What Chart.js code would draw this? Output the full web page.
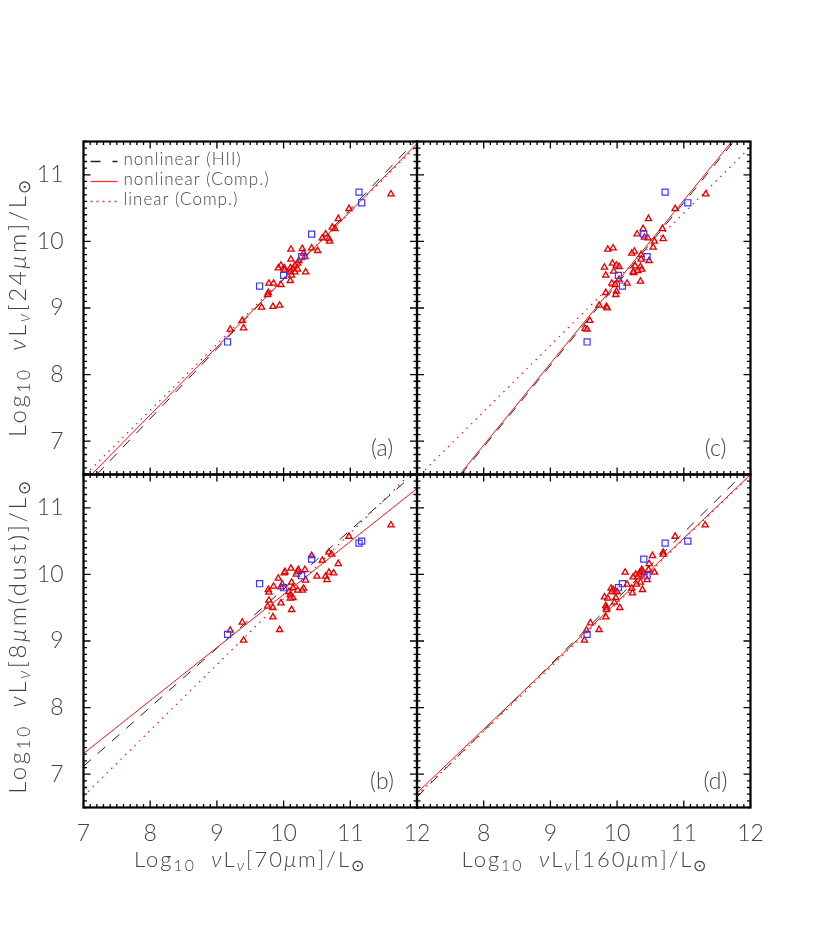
<!DOCTYPE html>
<html lang="en">
<head>
  <meta charset="UTF-8">
  <title>Luminosity correlations</title>
  <script src="https://cdn.jsdelivr.net/npm/chart.js"></script>
  <style>
    body { margin: 0; background: #fff; }
    #wrap { position: relative; width: 830px; height: 950px; }
    #wrap canvas { position: absolute; left: 0; top: 0; }
    .ttl { position: absolute; font-family: Lato, 'Liberation Sans', sans-serif; font-weight: 300; color: #444; white-space: nowrap; line-height: 1; }
    .ttl sub { font-size: 0.72em; vertical-align: -0.25em; line-height: 0; }
    .ttl i { font-style: italic; }
    .ttl .gap { display: inline-block; width: 0.7em; }
    .xt { font-size: 22px; letter-spacing: 2px; transform: translate(-50%, -50%); }
    .yt { font-size: 24px; letter-spacing: 2.6px; transform: translate(-50%, -50%) rotate(-90deg); }
  </style>
</head>
<body>
<div id="wrap">
  <canvas id="pa" width="830" height="950"></canvas>
  <canvas id="pb" width="830" height="950"></canvas>
  <canvas id="pc" width="830" height="950"></canvas>
  <canvas id="pd" width="830" height="950"></canvas>

  <div class="ttl yt" style="left:17px; top:307px">Log<sub>10</sub><span class="gap"></span><i>ν</i>L<sub><i>ν</i></sub>[24<i>μ</i>m]/L<sub>⊙</sub></div>
  <div class="ttl yt" style="left:17px; top:636px">Log<sub>10</sub><span class="gap"></span><i>ν</i>L<sub><i>ν</i></sub>[8<i>μ</i>m(dust)]/L<sub>⊙</sub></div>
  <div class="ttl xt" style="left:250px; top:859px">Log<sub>10</sub><span class="gap"></span><i>ν</i>L<sub><i>ν</i></sub>[70<i>μ</i>m]/L<sub>⊙</sub></div>
  <div class="ttl xt" style="left:585px; top:859px">Log<sub>10</sub><span class="gap"></span><i>ν</i>L<sub><i>ν</i></sub>[160<i>μ</i>m]/L<sub>⊙</sub></div>
</div>

<script>
// tick labels
const xTicks70 = [7, 8, 9, 10, 11, 12];
const xTicks160 = [8, 9, 10, 11, 12];
const yTicks = [7, 8, 9, 10, 11];

// blue squares (same 7 galaxies in every panel)
const sqL70 = [11.13, 11.17, 10.42, 10.27, 10.00, 9.64, 9.16];
const sqL160 = [10.72, 11.06, 10.40, 10.45, 10.02, 10.08, 9.55];
const sqL24 = [10.74, 10.58, 10.11, 9.77, 9.49, 9.33, 8.49];
const sqL8 = [10.47, 10.50, 10.23, 9.98, 9.80, 9.86, 9.10];

// red triangles, panel (a): 70um vs 24um
const aX = [11.61,10.98,10.82,10.77,10.73,10.63,10.68,10.69,10.58,10.42,10.51,10.28,10.11,10.30,10.32,10.11,10.23,10.21,10.17,9.96,9.92,10.01,10.01,10.10,10.14,10.21,10.17,10.10,10.33,10.12,10.10,9.96,9.78,9.85,9.77,9.76,9.67,9.84,9.94,9.38,9.40,9.20];
const aY = [10.71,10.49,10.34,10.19,10.21,10.11,10.04,10.00,10.05,9.90,9.86,9.89,9.88,9.82,9.77,9.73,9.71,9.67,9.64,9.64,9.60,9.60,9.57,9.60,9.58,9.58,9.54,9.54,9.54,9.49,9.41,9.35,9.37,9.37,9.23,9.20,9.01,9.02,9.04,8.81,8.70,8.68];
// panel (b): 70um vs 8um
const bX = [11.61,10.98,10.68,10.72,10.42,10.58,10.82,10.11,10.22,10.21,10.01,10.02,10.32,10.19,10.50,10.68,10.75,10.63,10.65,9.92,10.33,10.12,9.85,9.98,9.77,9.78,9.96,10.14,10.21,10.30,10.28,10.08,10.10,10.14,10.10,9.78,9.96,9.84,10.12,9.76,9.84,9.38,9.20,9.94,9.40];
const bY = [10.74,10.57,10.33,10.30,10.28,10.21,10.16,10.09,10.07,10.04,10.02,10.04,10.07,10.00,9.97,10.03,10.02,9.97,9.92,9.94,9.91,9.88,9.82,9.85,9.77,9.73,9.81,9.80,9.76,9.79,9.76,9.74,9.69,9.65,9.64,9.61,9.57,9.50,9.47,9.52,9.36,9.28,9.16,9.17,9.01];
// panel (c): 160um vs 24um
const cX = [11.33,10.87,10.47,10.39,10.30,10.68,10.69,10.56,10.41,10.46,10.54,9.86,9.94,10.26,10.22,10.36,10.36,10.48,9.93,9.99,10.03,9.81,10.27,10.35,10.37,10.31,10.25,10.24,9.95,9.83,10.03,10.35,10.15,9.92,9.97,9.99,9.98,9.83,9.73,9.84,9.85,9.59,9.52,9.55];
const cY = [10.71,10.49,10.34,10.19,10.11,10.19,10.04,10.00,10.06,10.05,9.91,9.88,9.90,9.85,9.82,9.80,9.73,9.71,9.67,9.64,9.62,9.61,9.63,9.62,9.58,9.56,9.53,9.54,9.55,9.49,9.43,9.40,9.37,9.37,9.35,9.25,9.20,9.23,9.04,9.02,9.00,8.81,8.69,8.68];
// panel (d): 160um vs 8um
const dX = [11.32,10.87,10.69,10.69,10.53,10.48,10.47,10.56,10.12,10.37,10.38,10.39,10.34,10.28,10.33,10.24,10.31,10.45,10.35,10.29,10.15,10.22,10.38,10.23,9.91,9.94,9.97,9.92,10.00,9.81,9.86,9.98,9.96,9.83,9.84,9.84,10.04,9.83,9.60,9.73,9.54,9.51];
const dY = [10.74,10.57,10.33,10.30,10.28,10.16,10.07,10.03,10.03,10.07,10.05,10.02,10.03,10.00,9.99,9.96,9.96,9.92,9.88,9.85,9.85,9.79,9.77,9.72,9.79,9.77,9.74,9.74,9.74,9.66,9.64,9.65,9.58,9.53,9.50,9.47,9.50,9.36,9.27,9.17,9.16,9.01];

// fit lines, end points [x0, y0, x1, y1]
const aHII = [7.20, 6.50, 11.97, 11.50];
const aComp = [7.12, 6.50, 12.00, 11.47];
const aLin = [7.03, 6.50, 12.00, 11.44];
const bHII = [7.00, 7.12, 12.00, 11.55];
const bComp = [7.00, 7.31, 12.00, 11.29];
const bLin = [7.00, 6.67, 12.00, 11.61];
const cHII = [7.66, 6.50, 11.75, 11.50];
const cComp = [7.64, 6.50, 11.72, 11.50];
const cLin = [7.05, 6.50, 12.00, 11.42];
const dHII = [7.00, 6.66, 12.00, 11.62];
const dComp = [7.00, 6.72, 12.00, 11.50];
const dLin = [7.00, 6.68, 12.00, 11.49];

const FONT = "Lato, 'Liberation Sans', sans-serif";
const INK = '#444';
const RED = '#f01818';

function pts(xs, ys) { return xs.map((x, i) => ({ x: x, y: ys[i] })); }
function seg(l) { return [{ x: l[0], y: l[1] }, { x: l[2], y: l[3] }]; }

// frame, inward IDL-style ticks, panel letter, legend
const deco = {
  id: 'deco',
  afterDraw(chart, args, o) {
    const ctx = chart.ctx, a = chart.chartArea, sx = chart.scales.x, sy = chart.scales.y;
    ctx.save();
    ctx.strokeStyle = '#000';
    ctx.lineWidth = 1.3;
    ctx.beginPath();
    for (let k = 70; k <= 120; k++) {
      const px = sx.getPixelForValue(k / 10), len = k % 10 === 0 ? 7 : 3.5;
      ctx.moveTo(px, a.bottom); ctx.lineTo(px, a.bottom - len);
      ctx.moveTo(px, a.top); ctx.lineTo(px, a.top + len);
    }
    for (let k = 65; k <= 115; k++) {
      const py = sy.getPixelForValue(k / 10), len = k % 10 === 0 ? 7 : 3.5;
      ctx.moveTo(a.left, py); ctx.lineTo(a.left + len, py);
      ctx.moveTo(a.right, py); ctx.lineTo(a.right - len, py);
    }
    ctx.stroke();
    ctx.lineWidth = 2.2;
    ctx.strokeRect(a.left, a.top, a.right - a.left, a.bottom - a.top);

    ctx.fillStyle = INK;
    ctx.font = '300 23px ' + FONT;
    ctx.textAlign = 'center';
    ctx.textBaseline = 'middle';
    ctx.fillText(o.label, a.right - 35, a.bottom - 26);

    if (o.legend) {
      const rows = [
        ['nonlinear (HII)', '#222222', [10, 12]],
        ['nonlinear (Comp.)', '#ff3030', []],
        ['linear (Comp.)', '#ff3030', [2, 4]]
      ];
      ctx.font = '300 17px ' + FONT;
      ctx.letterSpacing = '1px';
      ctx.textAlign = 'left';
      rows.forEach((r, i) => {
        const y = a.top + 20 + i * 20;
        ctx.strokeStyle = r[1];
        ctx.lineWidth = 1.3;
        ctx.setLineDash(r[2]);
        ctx.beginPath(); ctx.moveTo(a.left + 7, y); ctx.lineTo(a.left + 34, y); ctx.stroke();
        ctx.setLineDash([]);
        ctx.fillStyle = INK;
        ctx.fillText(r[0], a.left + 40, y - 2);
      });
    }
    ctx.restore();
  }
};

function panel(id, box, cfg) {
  const showX = !!cfg.xTicks, showY = !!cfg.yTicks;
  const tickFont = { family: FONT, size: 23, weight: 300 };
  new Chart(document.getElementById(id), {
    type: 'scatter',
    data: {
      datasets: [
        { data: pts(cfg.sqX, cfg.sqY), pointStyle: 'rect', pointRadius: 4.3, borderColor: '#3a3aff', borderWidth: 1.2, backgroundColor: 'rgba(0,0,0,0)' },
        { data: pts(cfg.tX, cfg.tY), pointStyle: 'triangle', pointRadius: 3.6, borderColor: '#e00000', borderWidth: 1.3, backgroundColor: 'rgba(255,200,200,0.35)' },
        { data: seg(cfg.comp), showLine: true, pointRadius: 0, borderColor: RED, borderWidth: 1 },
        { data: seg(cfg.lin), showLine: true, pointRadius: 0, borderColor: RED, borderWidth: 1.2, borderDash: [1.5, 5] },
        { data: seg(cfg.hii), showLine: true, pointRadius: 0, borderColor: '#222', borderWidth: 1, borderDash: [10, 9] }
      ]
    },
    options: {
      responsive: false,
      animation: false,
      events: [],
      layout: {
        padding: {
          left: showY ? box[0] - 60 : box[0],
          top: box[1],
          right: 830 - box[2],
          bottom: showX ? 950 - box[3] - 40 : 950 - box[3]
        }
      },
      plugins: { legend: { display: false }, tooltip: { enabled: false }, deco: { label: cfg.label, legend: cfg.legend } },
      scales: {
        x: {
          type: 'linear', min: 7, max: 12, display: showX,
          grid: { display: false, drawTicks: false }, border: { display: false },
          ticks: { font: tickFont, color: INK, padding: 12, maxRotation: 0, autoSkip: false },
          afterBuildTicks: s => { s.ticks = (cfg.xTicks || []).map(v => ({ value: v })); },
          afterFit: s => { if (showX) s.height = 40; }
        },
        y: {
          type: 'linear', min: 6.5, max: 11.5, display: showY,
          grid: { display: false, drawTicks: false }, border: { display: false },
          ticks: { font: tickFont, color: INK, padding: 20, autoSkip: false },
          afterBuildTicks: s => { s.ticks = (cfg.yTicks || []).map(v => ({ value: v })); },
          afterFit: s => { if (showY) s.width = 60; }
        }
      }
    },
    plugins: [deco]
  });
}

panel('pa', [83.5, 141.5, 417, 474.5], { label: '(a)', legend: true, yTicks: yTicks,
  sqX: sqL70, sqY: sqL24, tX: aX, tY: aY, hii: aHII, comp: aComp, lin: aLin });
panel('pb', [83.5, 474.5, 417, 807.5], { label: '(b)', xTicks: xTicks70, yTicks: yTicks,
  sqX: sqL70, sqY: sqL8, tX: bX, tY: bY, hii: bHII, comp: bComp, lin: bLin });
panel('pc', [417, 141.5, 750.5, 474.5], { label: '(c)',
  sqX: sqL160, sqY: sqL24, tX: cX, tY: cY, hii: cHII, comp: cComp, lin: cLin });
panel('pd', [417, 474.5, 750.5, 807.5], { label: '(d)', xTicks: xTicks160,
  sqX: sqL160, sqY: sqL8, tX: dX, tY: dY, hii: dHII, comp: dComp, lin: dLin });
</script>
</body>
</html>
